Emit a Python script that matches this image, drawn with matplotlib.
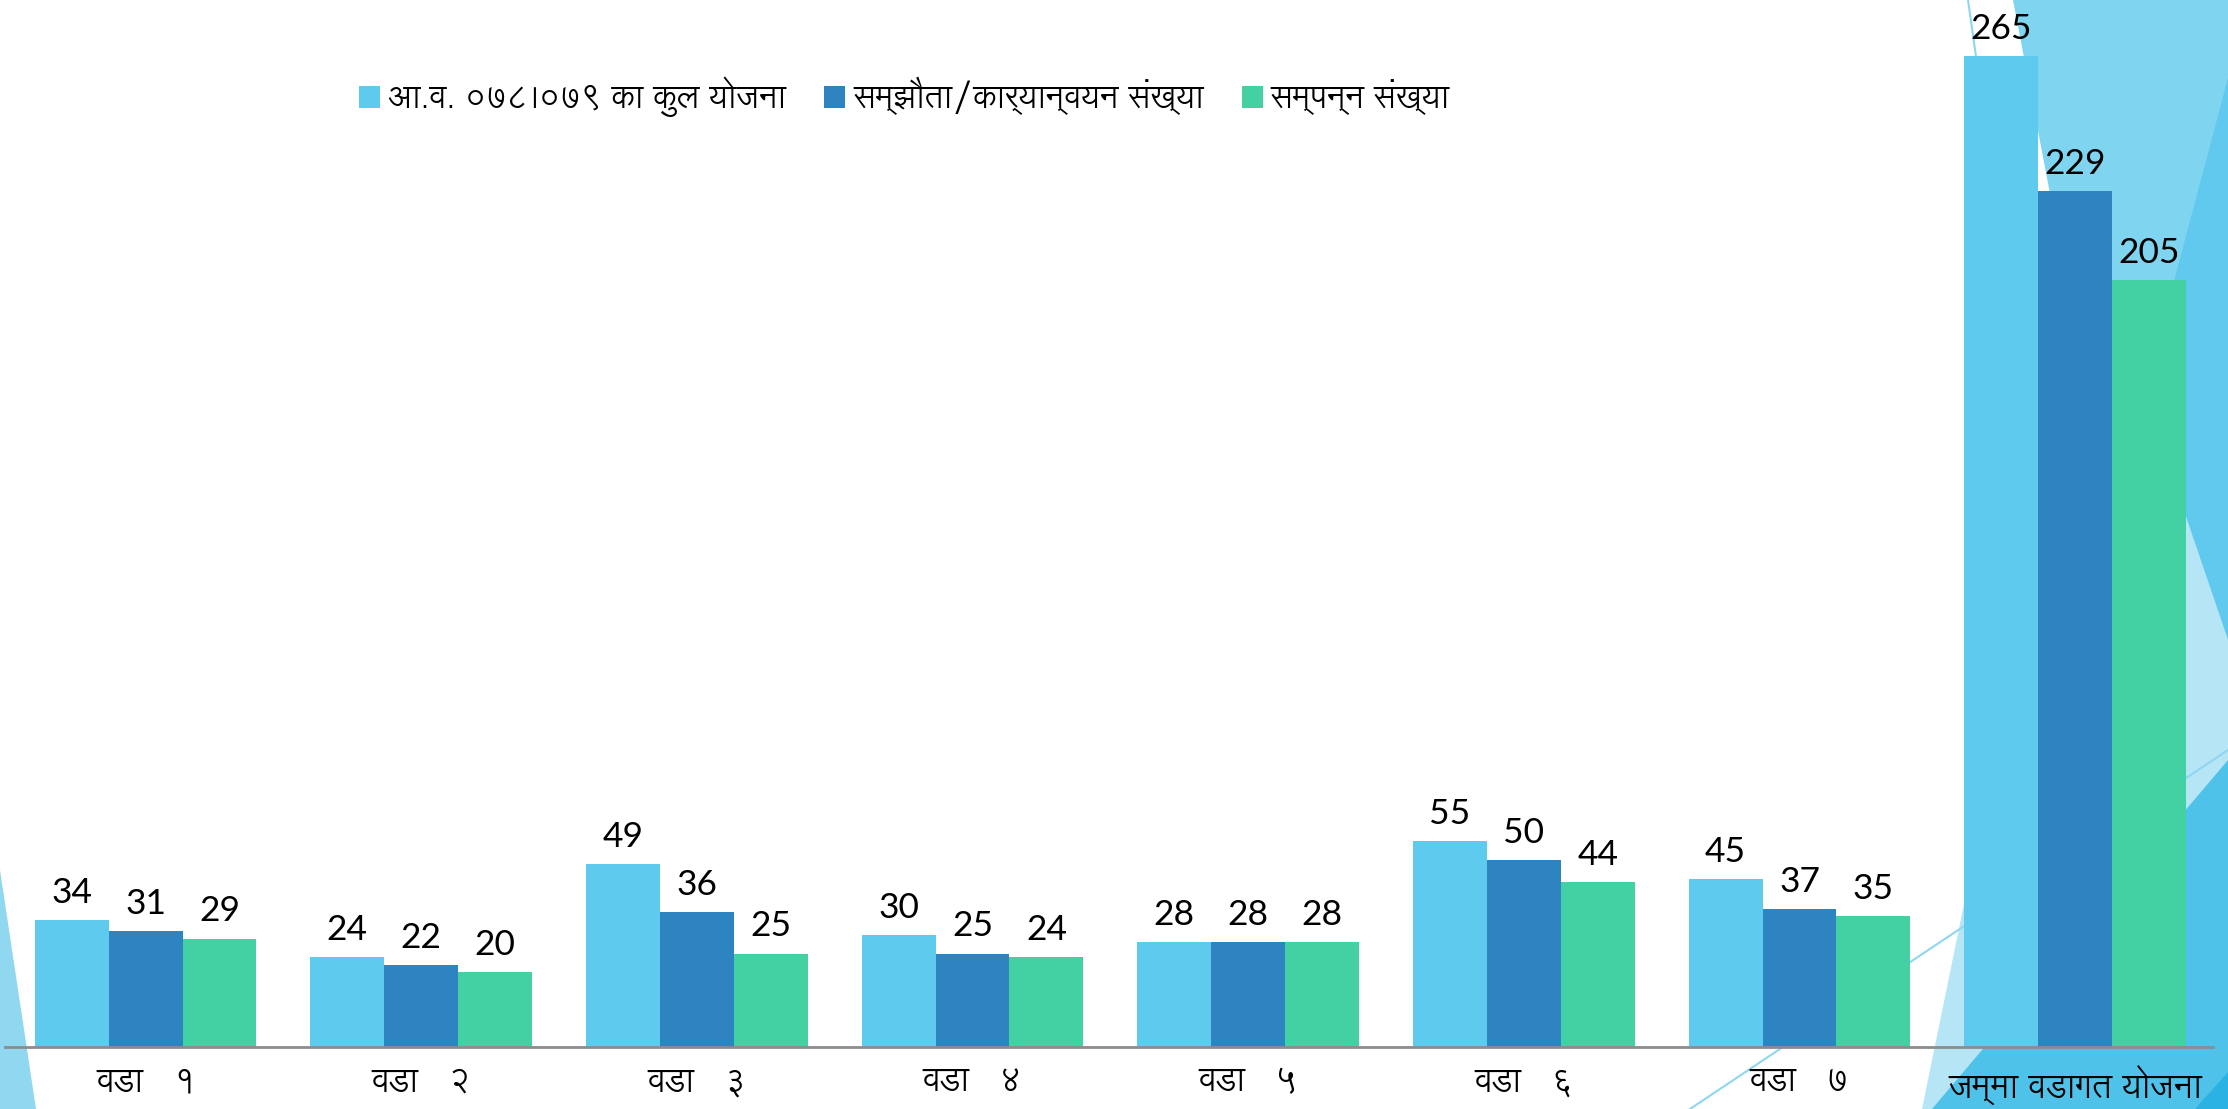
import matplotlib
matplotlib.use('Agg')
import matplotlib.pyplot as plt
from matplotlib.patches import Polygon
from matplotlib.lines import Line2D
import numpy as np

# डाटा
wards = ['वडा   १', 'वडा   २', 'वडा   ३', 'वडा   ४', 'वडा   ५', 'वडा   ६', 'वडा   ७', 'जम्मा वडागत योजना']
total_plans = [34, 24, 49, 30, 28, 55, 45, 265]
agreements = [31, 22, 36, 25, 28, 50, 37, 229]
completed = [29, 20, 25, 24, 28, 44, 35, 205]

series_names = ['आ.व. ०७८।०७९ का कुल योजना', 'सम्झौता/कार्यान्वयन संख्या', 'सम्पन्न संख्या']
colors = ['#5ecaee', '#2e83c1', '#43d0a2']

deva = ['Lohit Devanagari', 'Noto Sans Devanagari', 'DejaVu Sans']
num_font = ['Lato', 'DejaVu Sans']

W, H = 2228, 1109
fig = plt.figure(figsize=(W / 100, H / 100), dpi=100)
fig.patch.set_facecolor('white')

# पृष्ठभूमिका त्रिकोणहरू (स्लाइडको डिजाइन), पिक्सेलमा
def px(pts):
    return [(x / W, 1 - y / H) for x, y in pts]

shapes = [
    ([(2013, 0), (2228, 0), (2228, 700), (2120, 560)], '#7fd4ef'),
    ([(2228, 78), (2228, 640), (2144, 394)], '#62c9ee'),
    ([(1922, 1109), (2228, 1109), (2228, 640), (2097, 255)], '#b6e6f6'),
    ([(1932, 1109), (2228, 1109), (2228, 760)], '#4fc2ea'),
    ([(2195, 1109), (2228, 1109), (2228, 1072)], '#2ab2e3'),
    ([(0, 870), (0, 1109), (36, 1109)], '#8fd8f0'),
]
for pts, c in shapes:
    fig.add_artist(Polygon(px(pts), closed=True, facecolor=c, edgecolor='none',
                           transform=fig.transFigure, zorder=-2))

for (x0, y0), (x1, y1) in [((1690, 1109), (2228, 750)), ((1968, 0), (2050, 580))]:
    fig.add_artist(Line2D([x0 / W, x1 / W], [1 - y0 / H, 1 - y1 / H], color='#8fd6f0',
                          linewidth=1.5, transform=fig.transFigure, zorder=-1))

ax = fig.add_axes([5 / W, 62 / H, 2208 / W, 1 - 62 / H])
ax.patch.set_visible(False)

x = np.arange(len(wards))
bw = 0.268
for i, (vals, name) in enumerate(zip([total_plans, agreements, completed], series_names)):
    bars = ax.bar(x + (i - 1) * bw, vals, bw, color=colors[i], label=name)
    for b, v in zip(bars, vals):
        ax.annotate(str(v), (b.get_x() + b.get_width() / 2, v), xytext=(0, 8),
                    textcoords='offset points', ha='center', va='bottom',
                    fontsize=25.5, family=num_font, color='black')

ax.set_xlim(-0.51, 7.5)
ax.set_ylim(0, 280)
ax.set_xticks(x)
ax.set_xticklabels(wards, fontsize=24, family=deva)
ax.tick_params(axis='x', length=0, pad=14)
ax.set_yticks([])
for s in ['top', 'right', 'left']:
    ax.spines[s].set_visible(False)
ax.spines['bottom'].set_color('#8c8c8c')
ax.spines['bottom'].set_linewidth(2)

leg = ax.legend(loc='center', bbox_to_anchor=(0.406, 1 - 97 / H), bbox_transform=fig.transFigure,
                ncol=3, frameon=False, handlelength=0.65, handleheight=0.65,
                handletextpad=0.25, columnspacing=1.2, prop={'family': deva, 'size': 23})

fig.savefig('out.png', dpi=100)
